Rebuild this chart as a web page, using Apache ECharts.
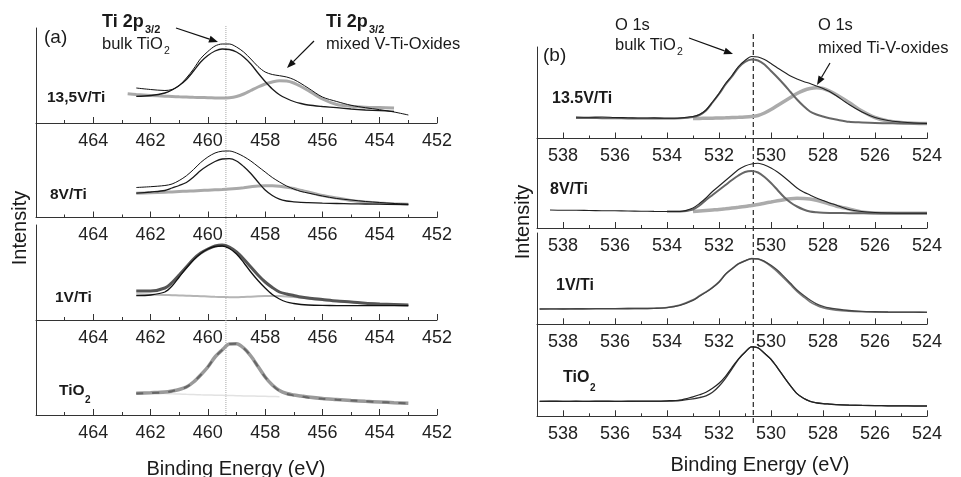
<!DOCTYPE html>
<html><head><meta charset="utf-8">
<script src="https://cdn.jsdelivr.net/npm/echarts@6/dist/echarts.min.js"></script>
<style>html,body{margin:0;padding:0;background:#fff}#c{width:961px;height:477px}</style>
</head><body><div id="c"></div>
<script>
// ---------------- DATA ----------------
// Binding energies (eV)
const energyA = [462.8, 462.5, 462.0, 461.5, 461.25, 461.0, 460.75, 460.5, 460.25, 460.0, 459.75, 459.5, 459.25, 459.0, 458.75, 458.5, 458.25, 458.0, 457.75, 457.5, 457.25, 457.0, 456.75, 456.5, 456.0, 455.5, 455.0, 454.5, 454.0, 453.5, 453.0];
const energyB = [538.9, 538.5, 538.0, 537.5, 537.0, 536.5, 536.0, 535.5, 535.0, 534.5, 534.0, 533.5, 533.0, 532.75, 532.5, 532.25, 532.0, 531.75, 531.5, 531.25, 531.0, 530.75, 530.5, 530.25, 530.0, 529.75, 529.5, 529.25, 529.0, 528.75, 528.5, 528.25, 528.0, 527.75, 527.5, 527.0, 526.5, 526.0, 525.5, 525.0, 524.5, 524.0];

// axis ticks
const ticksA = [464, 462, 460, 458, 456, 454, 452];
const minorTicksA = [465, 463, 461, 459, 457, 455, 453];
const ticksB = [538, 536, 534, 532, 530, 528, 526, 524];
const minorTicksB = [537, 535, 533, 531, 529, 527, 525];

// reference lines (eV)
const refLineA = 459.37;
const refLineB = 530.68;

// sample labels
const samplesA = ['13,5V/Ti', '8V/Ti', '1V/Ti', 'TiO'];
const samplesB = ['13.5V/Ti', '8V/Ti', '1V/Ti', 'TiO'];

// Panel (a) Ti 2p3/2 — intensity (a.u.)
const a1Spectrum = [null, 35, 33.5, 32.5, 33.5, 37.5, 45, 54, 64.5, 71.5, 77, 79, 79, 76, 71, 64, 56.5, 51, 48.5, 47.3, 46, 43.5, 39.5, 35, 26, 21.5, 17.7, 15.3, 13.3, 11, 8];
const a1Bulk     = [null, 26.7, 27.5, 30, 33, 37.5, 43.5, 52, 61, 67.5, 72, 74, 73.5, 71, 66, 59, 50, 41.5, 34, 28.3, 24.5, 21.5, 19.5, 18, 16.5, 15.3, 14, 13, 12.3, 11.7, null];
const a1Mixed    = [29.3, 28.5, 27.5, 26.8, 26.5, 26.2, 26, 25.7, 25.5, 25.3, 25.1, 25, 25.3, 26.5, 29, 32.5, 36, 39, 41, 42.2, 42, 40, 36.5, 32.5, 24, 18.5, 16.7, 15.8, 15.4, 15, null];

const a2Spectrum = [null, 30, 30.8, 32, 33.5, 37, 41.7, 48, 55, 60.5, 64.5, 66.3, 66.5, 64.5, 61, 56.5, 51, 45.5, 40, 35.5, 31.5, 28.5, 26, 24.5, 21.5, 19, 17.5, 16, 15, 14, 13.3];
const a2Bulk     = [null, 24.3, 25.5, 27, 29.5, 32, 35, 40.5, 47, 52, 56, 58.5, 58.8, 56.5, 51, 44, 35.5, 27.5, 22, 18.3, 16.5, 15.7, 15.1, 14.8, 14.3, 14, 13.7, 13.5, 13.3, 13.1, 13];
const a2Mixed    = [null, 24.3, 24.8, 25.3, 25.6, 26, 26.3, 26.6, 27, 27.3, 27.7, 28, 28.4, 29, 29.8, 30.7, 31.5, 31.8, 31.7, 31.2, 30.3, 29, 27.2, 25.5, 22, 19.5, 17, 15.5, 14.5, 13.8, 13.3];

const a3Spectrum = [null, 29, 29, 32, 37.5, 45, 53, 61, 67, 71, 74, 75, 73, 68, 61, 53, 45, 38, 32.5, 28, 26, 24.5, 23, 22, 20.5, 19, 18, 16.7, 16, 15.5, 15];
const a3Fit      = [null, 24.3, 25, 28, 34, 43, 52, 60, 66.5, 71, 73.5, 74, 71.5, 66, 57.5, 48, 39.5, 32, 25.5, 21, 18, 16.5, 15.5, 15, 14.6, 14.4, 14.3, 14.3, 14.3, 14.3, 14.3];
const a3Mixed    = [null, 25.7, 25.3, 25, 24.8, 24.5, 24.3, 24, 23.8, 23.5, 23.2, 23, 22.8, 22.7, 23, 23.3, 23.7, 24, 24.1, 24, 23.6, 23, 22.3, 21.5, 20, 19, 18, 17, 16.3, 15.7, 15];

const a4Spectrum = [null, 21.7, 22.3, 23, 24, 25.5, 28, 33, 40, 48, 58, 65, 71, 71.3, 67, 59, 48.5, 38, 30, 24.5, 21.5, 20, 19, 18, 16.5, 15.5, 14.5, 13.7, 13, 12.3, 11.7];
const a4Fit      = [null, 21.5, 22, 22.7, 23.8, 25.5, 28, 33, 40, 48, 58, 65, 71, 71.3, 67, 59, 48.5, 38, 30, 24, 21, 19.5, 18.5, 17.5, 16.3, 15.3, 14.5, 13.7, 13, 12.3, 11.7];
const a4Baseline = [null, 22.3, 22, 21.5, 21.2, 21, 20.7, 20.5, 20.2, 20, 19.8, 19.7, 19.5, 19.3, 19.1, 19, 18.8, 18.7, 18.5, 18.3, null, null, null, null, null, null, null, null, null, null, null];

// Panel (b) O 1s — intensity (a.u.)
const b1Spectrum = [null, null, null, 21.5, 21.3, 21.5, 21, 20.8, 20.5, 20.6, 20.2, 20.5, 22, 24, 28.5, 36.5, 45, 55, 63, 72, 78, 82, 81.5, 79, 75, 70.5, 66.5, 62.5, 59.5, 57, 55, 52.5, 50, 47, 43, 34, 26.5, 21, 18, 16.5, 15.5, 15];
const b1Bulk     = [null, null, null, 20.5, 20.5, 20.3, 20.2, 20.1, 20, 20, 20, 20.3, 21.5, 23.5, 28, 36, 44.5, 54, 62, 71, 76.5, 79, 78, 74, 67.5, 61, 54, 46.5, 39, 32.5, 27, 24, 22, 20.3, 19, 16.7, 16, 15.5, 15.3, 15, 15, 15];
const b1Mixed    = [null, null, null, null, null, null, null, null, null, null, null, null, 20, 20.1, 20.2, 20.3, 20.5, 20.7, 21, 21.2, 21.5, 22, 23, 25.5, 29, 33, 37, 41, 45, 48, 50, 50.8, 50, 47.5, 44, 36, 27.5, 21, 17.5, 16, 15.3, 15];

const b2Spectrum = [null, 18, 17.8, 17.8, 17.5, 17.3, 17.2, 17, 16.8, 16.6, 16.5, 16.5, 20, 24.5, 30, 36.5, 42, 47.5, 53, 58.5, 62, 64, 64.7, 63, 60, 56, 51, 45.5, 40, 36, 33, 30, 27.5, 25, 23, 18.5, 16.5, 15.5, 15, 14.7, 14.7, 14.7];
const b2Bulk     = [null, null, null, null, null, null, null, null, null, null, 16.5, 16.5, 18.5, 22.5, 28, 33, 38, 43, 48, 52.5, 56, 57, 55.5, 51, 45, 38, 31, 25.5, 21.5, 18.5, 16.5, 15.7, 15.3, 15.1, 15, 14.8, 14.7, 14.7, 14.7, 14.7, 14.7, 14.7];
const b2Mixed    = [null, null, null, null, null, null, null, null, null, null, null, null, 16.5, 17, 17.5, 18, 18.5, 19.2, 20, 20.7, 21.5, 22.5, 23.5, 24.8, 26, 27.2, 28.3, 29.2, 29.7, 29.6, 29, 27.7, 26, 24, 22, 19, 16, 15, 14.7, 14.7, 14.7, 14.7];

const b3Spectrum = [15.3, 15.5, 15.3, 15.6, 15.5, 15.7, 15.6, 15.8, 15.8, 16, 16.6, 19, 24, 28, 32, 36.5, 42, 50, 55.5, 60.5, 63.5, 65.7, 65.5, 63, 59, 54, 47.7, 41, 34.3, 29, 24.3, 20.5, 18, 16.3, 15.3, 13.8, 13, 12.6, 12.3, 12.2, 12.1, 12];
const b3Fit      = [15.3, 15.3, 15.4, 15.4, 15.5, 15.5, 15.6, 15.7, 15.8, 16, 16.8, 19.3, 24.5, 28.5, 32.5, 37, 42.5, 50, 55.5, 60.5, 63.5, 65.7, 65.3, 62.5, 58, 52.5, 46, 39.5, 33, 27.5, 22.5, 19, 16.5, 15, 14, 13, 12.5, 12.2, 12.1, 12, 12, 12];

const b4Spectrum = [15, 15.2, 15, 15.1, 15, 15.2, 15, 15.1, 15.3, 15.3, 15.5, 16.3, 19.5, 21.5, 24, 28, 33, 40, 49, 57.5, 64, 69.5, 68.5, 63, 57, 48.5, 39.3, 30.5, 22.7, 18, 15, 13.5, 12.7, 12.2, 11.7, 11.2, 10.9, 10.7, 10.5, 10.4, 10.3, 10.3];
const b4Fit      = [15, 15, 15, 15, 15, 15, 15, 15, 15, 15, 15.2, 15.8, 17.5, 18.7, 20.5, 24, 30, 38, 47.5, 57, 64, 69.5, 68.5, 63, 57, 48.5, 39.3, 30.5, 22.7, 18, 15, 13.5, 12.7, 12.2, 11.7, 11.2, 10.9, 10.7, 10.5, 10.4, 10.3, 10.3];

// ---------------- LAYOUT ----------------
const FONT = '"Liberation Sans", Arial, Helvetica, sans-serif';
const panelA = { left: 36, width: 401, min: 452, max: 466, ticks: ticksA, minor: minorTicksA };
const panelB = { left: 537, width: 390, min: 524, max: 539, ticks: ticksB, minor: minorTicksB };

const subplots = [
  { p: panelA, top: 28,    h: 95,   e: energyA, series: [
    { d: a1Mixed, c: '#a9a9a9', w: 3 }, { d: a1Bulk, c: '#1a1a1a', w: 1.3 }, { d: a1Spectrum, c: '#111', w: 1 } ] },
  { p: panelA, top: 123,   h: 94.5, e: energyA, series: [
    { d: a2Mixed, c: '#a9a9a9', w: 3 }, { d: a2Bulk, c: '#1a1a1a', w: 1.3 }, { d: a2Spectrum, c: '#111', w: 1 } ] },
  { p: panelA, top: 225,   h: 95,   e: energyA, series: [
    { d: a3Mixed, c: '#b5b5b5', w: 2 }, { d: a3Spectrum, c: '#555', w: 3 }, { d: a3Fit, c: '#111', w: 1.3 } ] },
  { p: panelA, top: 320,   h: 95,   e: energyA, series: [
    { d: a4Baseline, c: '#e2e2e2', w: 1.5 }, { d: a4Spectrum, c: '#9a9a9a', w: 3.5 }, { d: a4Fit, c: '#666', w: 2, t: [7, 9] } ] },
  { p: panelB, top: 47,    h: 91.5, e: energyB, series: [
    { d: b1Mixed, c: '#ababab', w: 3.5 }, { d: b1Bulk, c: '#666', w: 2 }, { d: b1Spectrum, c: '#222', w: 1.1 } ] },
  { p: panelB, top: 138.5, h: 89.5, e: energyB, series: [
    { d: b2Mixed, c: '#ababab', w: 3.5 }, { d: b2Bulk, c: '#666', w: 2 }, { d: b2Spectrum, c: '#222', w: 1.1 } ] },
  { p: panelB, top: 233,   h: 91.3, e: energyB, series: [
    { d: b3Fit, c: '#777', w: 1.6 }, { d: b3Spectrum, c: '#444', w: 1.3 } ] },
  { p: panelB, top: 324.3, h: 92,   e: energyB, series: [
    { d: b4Fit, c: '#333', w: 1.3 }, { d: b4Spectrum, c: '#222', w: 1.2 } ] }
];

function pairs(energies, values) {
  const out = [];
  energies.forEach((e, i) => { if (values[i] != null) out.push([e, values[i]]); });
  return out;
}

const grid = [], xAxis = [], yAxis = [], series = [];
subplots.forEach((sp, gi) => {
  const p = sp.p;
  grid.push({ left: p.left, width: p.width, top: sp.top, height: sp.h, outerBoundsMode: 'none', containLabel: false });
  xAxis.push({
    gridIndex: gi, type: 'value', min: p.min, max: p.max, inverse: true, position: 'bottom',
    axisLine: { onZero: false, lineStyle: { color: '#333', width: 1 } },
    axisTick: { show: true, inside: true, length: 6, customValues: p.ticks, lineStyle: { color: '#333', width: 1 } },
    axisLabel: { show: true, customValues: p.ticks, margin: 9, color: '#222', fontSize: 18, fontFamily: FONT },
    splitLine: { show: false }
  });
  xAxis.push({
    gridIndex: gi, type: 'value', min: p.min, max: p.max, inverse: true, position: 'bottom',
    axisLine: { show: false, onZero: false },
    axisTick: { show: true, inside: true, length: 3, customValues: p.minor, lineStyle: { color: '#333', width: 1 } },
    axisLabel: { show: false }, splitLine: { show: false }
  });
  yAxis.push({
    gridIndex: gi, type: 'value', min: 0, max: sp.h,
    axisLine: { show: true, onZero: false, lineStyle: { color: '#333', width: 1 } },
    axisTick: { show: false }, axisLabel: { show: false }, splitLine: { show: false }
  });
  sp.series.forEach(s => {
    series.push({
      type: 'line', xAxisIndex: gi * 2, yAxisIndex: gi, data: pairs(sp.e, s.d),
      showSymbol: false, smooth: 0.3, silent: true,
      lineStyle: { color: s.c, width: s.w, type: s.t || 'solid' }
    });
  });
});

const overlays = [
  { p: panelA, top: 25, h: 390, x: refLineA, c: '#a8a8a8', t: 'dotted', w: 1 },
  { p: panelB, top: 31, h: 392, x: refLineB, c: '#333', t: [5, 3], w: 1.3 }
];
overlays.forEach(o => {
  const gi = grid.length;
  grid.push({ left: o.p.left, width: o.p.width, top: o.top, height: o.h, outerBoundsMode: 'none', containLabel: false });
  const xi = xAxis.length;
  xAxis.push({ gridIndex: gi, type: 'value', min: o.p.min, max: o.p.max, inverse: true, show: false });
  const yi = yAxis.length;
  yAxis.push({ gridIndex: gi, type: 'value', min: 0, max: 1, show: false });
  series.push({
    type: 'line', xAxisIndex: xi, yAxisIndex: yi, data: [[o.x, 0], [o.x, 1]],
    showSymbol: false, silent: true, z: 1,
    lineStyle: { color: o.c, width: o.w, type: o.t }
  });
});

// ---------------- ANNOTATIONS ----------------
function T(x, y, text, size, bold, align) {
  return { type: 'text', silent: true, z: 100, style: {
    x, y, text, font: (bold ? 'bold ' : '') + size + 'px ' + FONT, fill: '#1a1a1a',
    align: align || 'left', verticalAlign: 'middle', textAlign: align || 'left', textVerticalAlign: 'middle' } };
}
function vText(x, y, text, size) {
  return { type: 'text', silent: true, z: 100, x, y, rotation: Math.PI / 2,
    style: { x: 0, y: 0, text, font: size + 'px ' + FONT, fill: '#1a1a1a', align: 'center', verticalAlign: 'middle', textAlign: 'center', textVerticalAlign: 'middle' } };
}
function arrow(x1, y1, x2, y2) {
  const ang = Math.atan2(y2 - y1, x2 - x1), L = 9, W = 3.5;
  const bx = x2 - L * Math.cos(ang), by = y2 - L * Math.sin(ang);
  const nx = -Math.sin(ang) * W, ny = Math.cos(ang) * W;
  return [
    { type: 'line', silent: true, z: 100, shape: { x1, y1, x2: bx, y2: by }, style: { stroke: '#111', lineWidth: 1.2 } },
    { type: 'polygon', silent: true, z: 100, shape: { points: [[x2, y2], [bx + nx, by + ny], [bx - nx, by - ny]] }, style: { fill: '#111' } }
  ];
}

const graphic = [
  T(44, 38, '(a)', 19, false),
  T(102, 22, 'Ti 2p', 18, true), T(145, 30, '3/2', 11, true),
  T(102, 44, 'bulk TiO', 16.5, false), T(164, 51, '2', 10.5, false),
  T(326, 22, 'Ti 2p', 18, true), T(369, 30, '3/2', 11, true),
  T(326, 44, 'mixed V-Ti-Oxides', 16.5, false),
  ...arrow(176, 28, 218, 42),
  ...arrow(314, 41, 287, 68),
  T(47, 98, samplesA[0], 15.5, true),
  T(50, 195, samplesA[1], 15.5, true),
  T(55, 298, samplesA[2], 15.5, true),
  T(59, 391, samplesA[3], 15.5, true), T(85, 400, '2', 10, true),
  vText(20, 228, 'Intensity', 20),
  T(236, 469, 'Binding Energy (eV)', 20, false, 'center'),
  T(543, 56, '(b)', 19, false),
  T(615, 25, 'O 1s', 16.5, false),
  T(615, 45, 'bulk TiO', 16.5, false), T(677, 52, '2', 10.5, false),
  T(818, 25, 'O 1s', 16.5, false),
  T(818, 48, 'mixed Ti-V-oxides', 16.5, false),
  ...arrow(689, 38, 733, 54),
  ...arrow(830, 63, 817, 85),
  T(552, 99, samplesB[0], 16, true),
  T(550, 190, samplesB[1], 16, true),
  T(556, 286, samplesB[2], 16, true),
  T(563, 378, samplesB[3], 16, true), T(590, 388, '2', 10, true),
  vText(523, 222, 'Intensity', 20),
  T(760, 465, 'Binding Energy (eV)', 20, false, 'center')
];

const chart = echarts.init(document.getElementById('c'), null, { renderer: 'canvas' });
chart.setOption({ animation: false, backgroundColor: '#fff', grid, xAxis, yAxis, series, graphic });
</script>
</body></html>
